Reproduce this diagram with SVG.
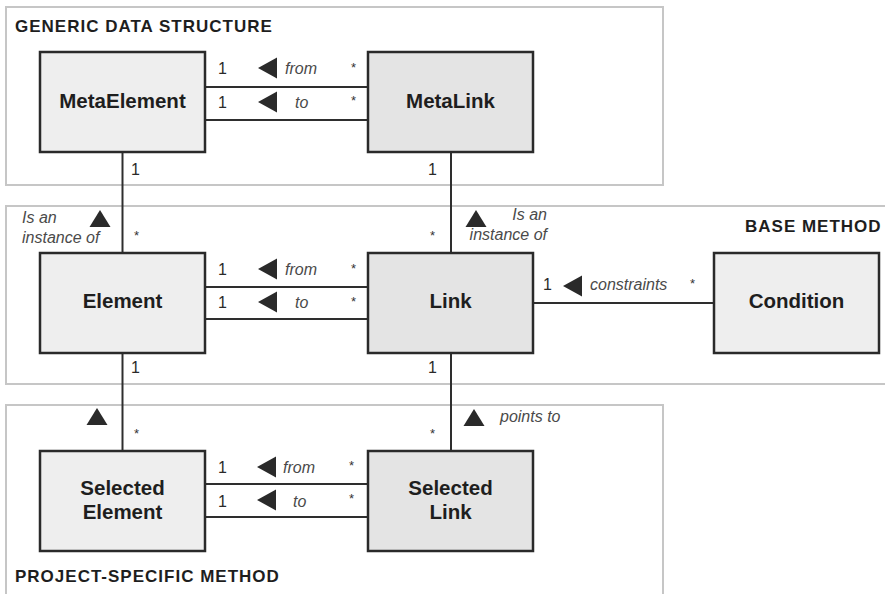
<svg xmlns="http://www.w3.org/2000/svg" xmlns:xlink="http://www.w3.org/1999/xlink" width="885" height="594" viewBox="0 0 885 594">
<style>
.frame{fill:none;stroke:#c6c6c6;stroke-width:2}
.box{stroke:#2a2a2a;stroke-width:2.5}
.el{fill:#eeeeee}
.lk{fill:#e4e4e4}
.conn{stroke:#2e2e2e;stroke-width:2;fill:none}
.title{font-family:"Liberation Sans",Arial,sans-serif;font-weight:bold;font-size:17px;letter-spacing:1px;fill:#1e1e1e}
.name{font-family:"Liberation Sans",Arial,sans-serif;font-weight:bold;font-size:20.5px;fill:#1e1e1e;text-anchor:middle}
.mult{font-family:"Liberation Sans",Arial,sans-serif;font-size:16px;fill:#2a2a2a}
.star{font-family:"Liberation Sans",Arial,sans-serif;font-size:13px;fill:#333}
.role{font-family:"Liberation Sans",Arial,sans-serif;font-style:italic;font-size:16px;fill:#4a4a4a}
.tri{fill:#2a2a2a}
</style>
<defs>
<path id="triL" d="M0,0 L19,-10.5 L19,10.5 Z"/>
<path id="triU" d="M0,0 L-10.5,17 L10.5,17 Z"/>
</defs>

<g id="frames">
<rect class="frame" x="6" y="7" width="657" height="178"/>
<rect class="frame" x="6" y="206" width="882" height="178"/>
<path class="frame" d="M6,600 L6,405 L663,405 L663,600"/>
<text class="title" x="15" y="32">GENERIC DATA STRUCTURE</text>
<text class="title" x="745" y="232">BASE METHOD</text>
<text class="title" x="15" y="582">PROJECT-SPECIFIC METHOD</text>
</g>

<g id="connectors">
<line class="conn" x1="205" y1="87" x2="368" y2="87"/>
<line class="conn" x1="205" y1="120" x2="368" y2="120"/>
<line class="conn" x1="205" y1="287" x2="368" y2="287"/>
<line class="conn" x1="205" y1="319" x2="368" y2="319"/>
<line class="conn" x1="203" y1="484" x2="368" y2="484"/>
<line class="conn" x1="203" y1="517" x2="368" y2="517"/>
<line class="conn" x1="533" y1="303" x2="714" y2="303"/>
<line class="conn" x1="122.5" y1="152" x2="122.5" y2="253"/>
<line class="conn" x1="122.5" y1="353" x2="122.5" y2="451"/>
<line class="conn" x1="451" y1="152" x2="451" y2="253"/>
<line class="conn" x1="451" y1="353" x2="451" y2="451"/>

<g class="tri">
<use xlink:href="#triL" x="258" y="68"/>
<use xlink:href="#triL" x="258" y="102"/>
<use xlink:href="#triL" x="258" y="269"/>
<use xlink:href="#triL" x="258" y="302"/>
<use xlink:href="#triL" x="257" y="467"/>
<use xlink:href="#triL" x="257" y="500"/>
<use xlink:href="#triL" x="563" y="286"/>
<use xlink:href="#triU" x="100" y="210"/>
<use xlink:href="#triU" x="476" y="210"/>
<use xlink:href="#triU" x="97" y="408"/>
<use xlink:href="#triU" x="474" y="409"/>
</g>

<text class="mult" x="218" y="74">1</text>
<text class="mult" x="218" y="108">1</text>
<text class="mult" x="218" y="275">1</text>
<text class="mult" x="218" y="308">1</text>
<text class="mult" x="218" y="473">1</text>
<text class="mult" x="218" y="507">1</text>
<text class="mult" x="543" y="290">1</text>
<text class="mult" x="131" y="175">1</text>
<text class="mult" x="428" y="175">1</text>
<text class="mult" x="131" y="373">1</text>
<text class="mult" x="428" y="373">1</text>

<text class="star" x="351" y="72">*</text>
<text class="star" x="351" y="105">*</text>
<text class="star" x="351" y="273">*</text>
<text class="star" x="351" y="306">*</text>
<text class="star" x="349" y="470">*</text>
<text class="star" x="349" y="503">*</text>
<text class="star" x="690" y="288">*</text>
<text class="star" x="134" y="240">*</text>
<text class="star" x="430" y="240">*</text>
<text class="star" x="134" y="438">*</text>
<text class="star" x="430" y="438">*</text>

<text class="role" x="285" y="74">from</text>
<text class="role" x="295" y="108">to</text>
<text class="role" x="285" y="275">from</text>
<text class="role" x="295" y="308">to</text>
<text class="role" x="283" y="473">from</text>
<text class="role" x="293" y="507">to</text>
<text class="role" x="590" y="290">constraints</text>
<text class="role" x="22" y="223">Is an</text>
<text class="role" x="22" y="243">instance of</text>
<text class="role" x="547" y="220" text-anchor="end">Is an</text>
<text class="role" x="547" y="240" text-anchor="end">instance of</text>
<text class="role" x="500" y="422">points to</text>
</g>

<g id="MetaElement">
<rect class="box el" x="40" y="52" width="165" height="100"/>
<text class="name" x="122.5" y="108">MetaElement</text>
</g>
<g id="MetaLink">
<rect class="box lk" x="368" y="52" width="165" height="100"/>
<text class="name" x="450.5" y="108">MetaLink</text>
</g>
<g id="Element">
<rect class="box el" x="40" y="253" width="165" height="100"/>
<text class="name" x="122.5" y="308">Element</text>
</g>
<g id="Link">
<rect class="box lk" x="368" y="253" width="165" height="100"/>
<text class="name" x="450.5" y="308">Link</text>
</g>
<g id="Condition">
<rect class="box el" x="714" y="253" width="165" height="100"/>
<text class="name" x="796.5" y="308">Condition</text>
</g>
<g id="SelectedElement">
<rect class="box el" x="40" y="451" width="165" height="100"/>
<text class="name" x="122.5" y="495">Selected</text>
<text class="name" x="122.5" y="519">Element</text>
</g>
<g id="SelectedLink">
<rect class="box lk" x="368" y="451" width="165" height="100"/>
<text class="name" x="450.5" y="495">Selected</text>
<text class="name" x="450.5" y="519">Link</text>
</g>
</svg>
